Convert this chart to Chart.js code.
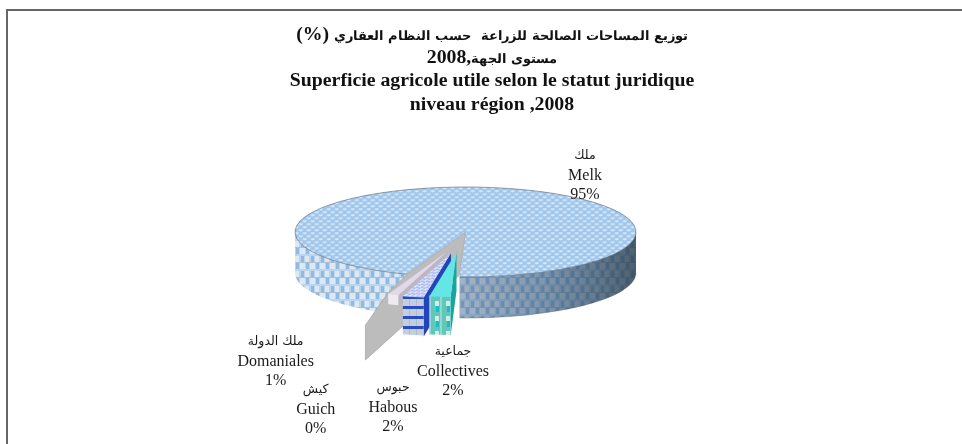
<!DOCTYPE html>
<html><head><meta charset="utf-8">
<script src="https://cdn.jsdelivr.net/npm/chart.js@4"></script>
<style>
html,body{margin:0;padding:0;background:#fff}canvas{display:block}
@font-face{font-family:'TitleArabic';src:local('DejaVu Sans Bold'),local('DejaVuSans-Bold');font-weight:bold;size-adjust:66.5%;unicode-range:U+0600-06FF,U+FE70-FEFF}
</style>
</head><body><canvas id="c" width="962" height="444"></canvas>
<script>
const categories = ['Melk','Collectives','Habous','Guich','Domaniales'];
const arabicNames = ['ملك','جماعية','حبوس','كيش','ملك الدولة'];
const shares = [95,2,2,0,1];
const titleLines = ['توزيع المساحات الصالحة للزراعة  حسب النظام العقاري (%)\u200F','مستوى الجهة,2008','Superficie agricole utile selon le statut juridique','niveau région ,2008'];

function makePattern(w,h,paint){
  const c=document.createElement('canvas');c.width=w;c.height=h;
  const g=c.getContext('2d');paint(g);
  return g.createPattern(c,'repeat');
}
const topBlue=makePattern(8,6,g=>{
  g.fillStyle='#9fc6ec';g.fillRect(0,0,8,6);
  g.fillStyle='#d8e8f8';g.fillRect(1,0,4,1);g.fillRect(2,1,2,1);g.fillRect(5,3,3,1);g.fillRect(0,3,1,1);g.fillRect(6,4,2,1);
  g.fillStyle='#bad6f1';g.fillRect(0,1,2,1);g.fillRect(4,1,1,1);g.fillRect(4,4,2,1);g.fillRect(0,4,1,1);
});
const wallBlue=makePattern(10,15,g=>{
  g.fillStyle='#bdd4ea';g.fillRect(0,0,10,15);
  g.fillStyle='#8fbae4';g.fillRect(1,1,3,6);g.fillRect(6,8,3,6);
  g.fillStyle='#dbe8f5';g.fillRect(5,1,4,6);g.fillRect(0,8,5,6);
  g.fillStyle='#aebfce';g.fillRect(0,7,10,1);
});
const habousTop=makePattern(5,3,g=>{
  g.fillStyle='#a9b9ef';g.fillRect(0,0,5,3);
  g.fillStyle='#eef1fb';g.fillRect(0,0,3,1);g.fillRect(2,2,3,1);
});
const habousFront=makePattern(7,10,g=>{
  g.fillStyle='#c3cfdc';g.fillRect(0,0,7,10);
  g.fillStyle='#aebccb';g.fillRect(3,0,1,10);
  g.fillStyle='#2a4cc0';g.fillRect(0,6,7,3);
});
const collectFront=makePattern(11,15,g=>{
  g.fillStyle='#62c6bb';g.fillRect(0,0,11,15);
  g.fillStyle='#d3ece8';g.fillRect(6,1,4,5);
  g.fillStyle='#12c2c4';g.fillRect(7,6,3,6);
  g.fillStyle='#95d8d0';g.fillRect(0,0,2,15);
});

const sliceStyle = {
  Melk:{top:topBlue},
  Collectives:{top:'#63e6e4',front:collectFront,side:'#1aa3a3',shift:[-9,20],depth:39},
  Habous:{top:habousTop,front:habousFront,side:'#2344bb',shift:[-14.5,21],depth:39},
  Guich:{top:'#c9a6dc',front:'#c9a6dc',side:'#c9a6dc',shift:[-16,20],depth:11},
  Domaniales:{top:'#e2d8e8',front:'#eeeaf0',side:'#bcb6c4',shift:[-19,20],depth:11}
};
const pie={cx:465.5,cy:232,rx:170.5,ry:45,depth:41};
const labelSpots=[[585,156],[453,352],[393,388],[315.7,390],[275.7,342]];

const pie3d={
  id:'pie3d',
  beforeDraw(chart){
    const c=chart.ctx;c.save();
    c.fillStyle='#666';
    c.fillRect(7,9,955,2);c.fillRect(6,9,2,435);
    c.restore();
  },
  beforeDatasetsDraw(chart){
    const c=chart.ctx,els=chart.getDatasetMeta(0).data,{cx,cy,rx,ry,depth}=pie;
    const at=(a,s=[0,0])=>[cx+s[0]+rx*Math.cos(a),cy+s[1]+ry*Math.sin(a)];
    const topFace=(el,s)=>{
      const R=el.outerRadius;
      const p=el.options.backgroundColor;
      if(p instanceof CanvasPattern)p.setTransform(new DOMMatrix().scale(R/rx,R/ry));
      c.save();c.translate(cx+s[0],cy+s[1]);c.scale(rx/R,ry/R);c.translate(-el.x,-el.y);
      el.draw(c);c.restore();
    };
    const wall=(a,b,s,d,fill)=>{
      if(b<=a)return;
      c.beginPath();c.ellipse(cx+s[0],cy+s[1],rx,ry,0,a,b);
      c.ellipse(cx+s[0],cy+s[1]+d,rx,ry,0,b,a,true);c.closePath();
      c.fillStyle=fill;c.fill();
    };
    const norm=a=>{a%=2*Math.PI;return a<0?a+2*Math.PI:a;};
    const melk=els[0];
    const a0=norm(melk.startAngle);          // cut on the left
    const a1=norm(melk.endAngle);            // cut at the front
    wall(a0,Math.PI,[0,0],depth,wallBlue);
    wall(0,a1,[0,0],depth,wallBlue);
    const gr=c.createLinearGradient(at(a1)[0],0,cx+rx,0);
    gr.addColorStop(0,'rgba(70,95,125,.38)');gr.addColorStop(.5,'rgba(50,80,110,.55)');gr.addColorStop(1,'rgba(30,50,65,.75)');
    wall(0,a1,[0,0],depth,gr);
    topFace(melk,[0,0]);
    c.beginPath();c.ellipse(cx,cy,rx,ry,0,a0,a1+2*Math.PI);
    c.strokeStyle='rgba(85,100,115,.75)';c.lineWidth=.8;c.stroke();
    c.beginPath();c.ellipse(cx,cy+depth,rx,ry,0,0,a1);c.strokeStyle='rgba(60,75,90,.4)';c.stroke();
    // grey cut plane reaching out from the centre
    const r0=at(a0),r1=at(a1);
    const far=[cx-rx*.587,cy+ry*2.07];
    c.beginPath();c.moveTo(cx,cy);c.lineTo(r0[0],r0[1]);
    c.lineTo(cx-rx*.46,cy+ry*1.38);c.lineTo(far[0],far[1]);
    c.lineTo(far[0],far[1]+depth*.85);c.lineTo(r1[0],r1[1]-2);c.closePath();
    c.fillStyle='#bcbcbc';c.fill();c.strokeStyle='#a4a4a4';c.lineWidth=.7;c.stroke();
    // small slices, farthest first
    [4,3,2,1].forEach(i=>{
      const el=els[i],st=sliceStyle[categories[i]],s=st.shift;
      if(el.circumference<=0)return;
      const sa=norm(el.startAngle),ea=norm(el.endAngle);
      const p=at(sa,s),ax=cx+s[0],ay=cy+s[1];
      c.beginPath();c.moveTo(ax,ay);c.lineTo(p[0],p[1]);c.lineTo(p[0],p[1]+st.depth);c.lineTo(ax,ay+st.depth);c.closePath();
      c.fillStyle=st.side;c.fill();
      wall(sa,ea,[s[0],s[1]-1],st.depth,st.front);
      topFace(el,s);
    });
  },
  afterDatasetsDraw(chart){
    const c=chart.ctx;
    c.save();c.textAlign='center';c.textBaseline='middle';c.fillStyle='#1a1a1a';
    categories.forEach((n,i)=>{
      const [x,y]=labelSpots[i];
      c.font="12.5px 'DejaVu Sans'";c.fillText(arabicNames[i],x,y);
      c.font="16px 'Liberation Serif'";c.fillText(n,x,y+20);c.fillText(shares[i]+'%',x,y+39);
    });
    c.restore();
  }
};
// the flat arcs are drawn by pie3d, through the squashed transform
Chart.controllers.pie.prototype.draw=function(){};

function build(){
  new Chart(document.getElementById('c'),{
    type:'pie',
    data:{labels:categories,datasets:[{data:shares,
      backgroundColor:categories.map(n=>sliceStyle[n].top),borderWidth:0}]},
    options:{
      responsive:false,animation:false,rotation:200,
      layout:{padding:{left:22}},
      plugins:{
        legend:{display:false},tooltip:{enabled:false},
        title:{display:true,text:titleLines,color:'#111',padding:{top:23,bottom:10},
          font:{family:"'Liberation Serif','TitleArabic','DejaVu Sans'",size:19.8,weight:'bold',lineHeight:1.175}}
      }
    },
    plugins:[pie3d]
  });
}
document.fonts.load("bold 20px 'TitleArabic'",'توزيع').then(build,build);
</script></body></html>
